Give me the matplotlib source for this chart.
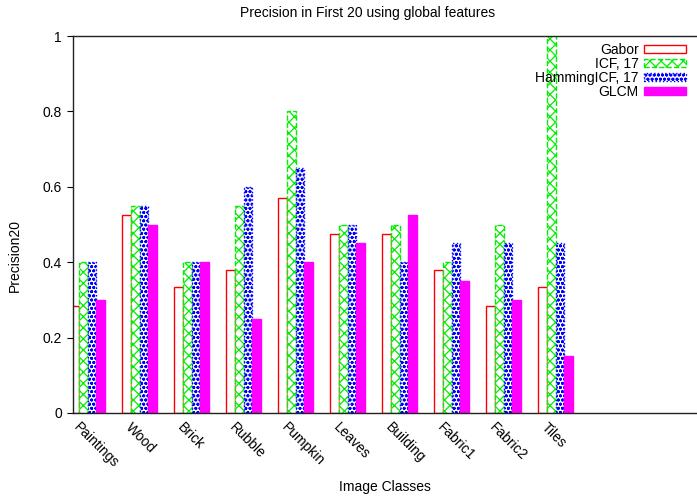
import numpy as np
import matplotlib
matplotlib.use("Agg")
import matplotlib.pyplot as plt

plt.rcParams['font.family'] = ['Liberation Sans', 'DejaVu Sans']
plt.rcParams['font.size'] = 10
plt.rcParams['hatch.linewidth'] = 0.9

classes = ['Paintings', 'Wood', 'Brick', 'Rubble', 'Pumpkin',
           'Leaves', 'Building', 'Fabric1', 'Fabric2', 'Tiles']
gabor = [0.285, 0.525, 0.333, 0.38, 0.57, 0.475, 0.475, 0.38, 0.285, 0.333]
icf17 = [0.4, 0.55, 0.4, 0.55, 0.8, 0.5, 0.5, 0.4, 0.5, 1.0]
hamming_icf17 = [0.4, 0.55, 0.4, 0.6, 0.65, 0.5, 0.4, 0.45, 0.45, 0.45]
glcm = [0.3, 0.5, 0.4, 0.25, 0.4, 0.45, 0.525, 0.35, 0.3, 0.15]

series = [
    ('Gabor', gabor, dict(facecolor='white', edgecolor='#ff0000', hatch=None, linestyle='-')),
    ('ICF, 17', icf17, dict(facecolor='white', edgecolor='#00ee00', hatch='xxx', linestyle='--')),
    ('HammingICF, 17', hamming_icf17, dict(facecolor='white', edgecolor='#0000ff', hatch='oooo', linestyle=':')),
    ('GLCM', glcm, dict(facecolor='#ff00ff', edgecolor='#ff00ff', hatch=None, linestyle='-')),
]

fig = plt.figure(figsize=(6.97, 4.97), dpi=100)
ax = fig.add_axes([73 / 697, 84 / 497, 623 / 697, 377 / 497])

x = np.arange(len(classes))
w = 1 / 6
for j, (name, vals, style) in enumerate(series):
    ax.bar(x + (j - 1.5) * w, vals, width=w, linewidth=1.0, label=name, **style)

ax.set_xlim(-0.28, 11.70)
ax.set_ylim(0, 1)
ax.set_yticks([0, 0.2, 0.4, 0.6, 0.8, 1.0])
ax.set_yticklabels(['0', '0.2', '0.4', '0.6', '0.8', '1'])
ax.set_xticks(x - 0.13)
ax.set_xticklabels(classes, rotation=-45, ha='left', va='top', rotation_mode='anchor')
ax.tick_params(axis='x', length=0, pad=5)
ax.tick_params(axis='y', direction='out', length=4, pad=4)
ax.spines['right'].set_visible(False)
for s in ['left', 'top', 'bottom']:
    ax.spines[s].set_color('#222222')
    ax.spines[s].set_linewidth(1.0)

# axis titles placed in figure coordinates
fig.text(15 / 697, 1 - 255 / 497, 'Precision20', rotation=90, ha='center', va='center')
fig.text(385 / 697, 1 - 487 / 497, 'Image Classes', ha='center', va='center')
fig.text(368 / 697, 1 - 13 / 497, 'Precision in First 20 using global features',
         ha='center', va='center')

ax.legend(loc='upper right', frameon=False, markerfirst=False,
          handlelength=3.0, handleheight=0.55, labelspacing=0.0,
          borderaxespad=0.0, handletextpad=0.4,
          bbox_to_anchor=(0.993, 0.997))

fig.savefig('out.png', dpi=100)
